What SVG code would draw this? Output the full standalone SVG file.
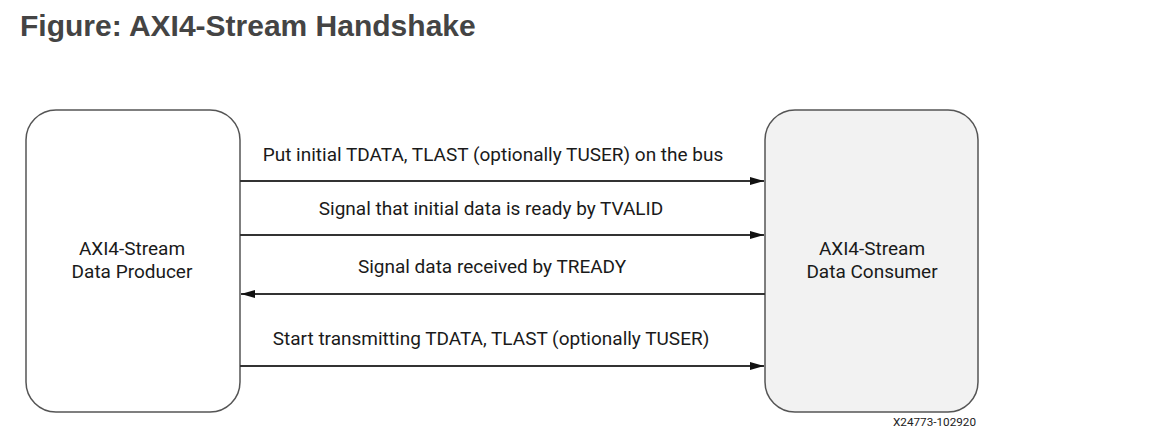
<svg xmlns="http://www.w3.org/2000/svg" width="1155" height="436" viewBox="0 0 1155 436">
<style>
.title{font-family:"Liberation Sans",Arial,sans-serif;font-weight:bold;font-size:30px;fill:#444}
.box{stroke:#555;stroke-width:1.5}
.lbl{font-family:Roboto,"Liberation Sans",sans-serif;font-size:19px;fill:#1a1a1a;text-anchor:middle}
.conn{stroke:#333;stroke-width:2;fill:none}
.wm{font-family:Roboto,"Liberation Sans",sans-serif;font-size:11px;fill:#222}
</style>
<defs>
<marker id="ah" markerWidth="14" markerHeight="8" refX="14" refY="4" orient="auto" markerUnits="userSpaceOnUse">
<path d="M0,0 L14,4 L0,8 Z" fill="#111"/>
</marker>
</defs>
<rect width="1155" height="436" fill="#fff"/>
<text class="title" x="20" y="36">Figure: AXI4-Stream Handshake</text>
<g id="producer">
<rect class="box" x="26" y="110" width="214" height="302" rx="30" ry="30" fill="#fff"/>
<text class="lbl" x="132" y="255">AXI4-Stream</text>
<text class="lbl" x="132" y="278">Data Producer</text>
</g>
<g id="consumer">
<rect class="box" x="765" y="110" width="213" height="302" rx="30" ry="30" fill="#f2f2f2"/>
<text class="lbl" x="872" y="255">AXI4-Stream</text>
<text class="lbl" x="872" y="278">Data Consumer</text>
</g>
<g id="connectors">
<line class="conn" x1="240" y1="181" x2="764" y2="181" marker-end="url(#ah)"/>
<line class="conn" x1="240" y1="235" x2="764" y2="235" marker-end="url(#ah)"/>
<line class="conn" x1="765" y1="294" x2="241" y2="294" marker-end="url(#ah)"/>
<line class="conn" x1="240" y1="366" x2="764" y2="366" marker-end="url(#ah)"/>
<text class="lbl" x="493" y="161">Put initial TDATA, TLAST (optionally TUSER) on the bus</text>
<text class="lbl" x="491" y="215">Signal that initial data is ready by TVALID</text>
<text class="lbl" x="492" y="273">Signal data received by TREADY</text>
<text class="lbl" x="491" y="345">Start transmitting TDATA, TLAST (optionally TUSER)</text>
</g>
<text class="wm" x="893" y="426" textLength="83" lengthAdjust="spacingAndGlyphs">X24773-102920</text>
</svg>
